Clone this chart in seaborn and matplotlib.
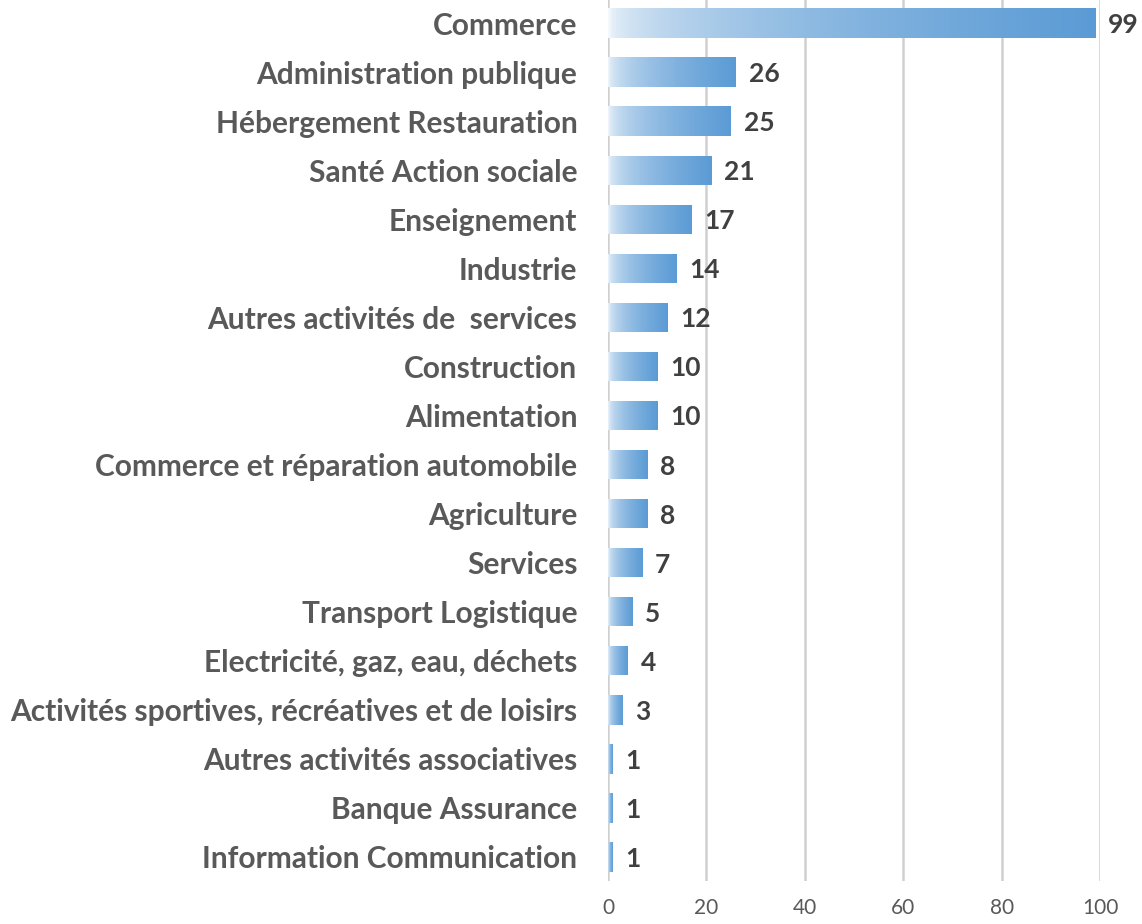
import numpy as np
import pandas as pd
import matplotlib
matplotlib.use("Agg")
from matplotlib import pyplot as plt
from matplotlib.colors import LinearSegmentedColormap
import seaborn as sns

categories = ["Commerce", "Administration publique", "Hébergement Restauration",
              "Santé Action sociale", "Enseignement", "Industrie",
              "Autres activités de  services", "Construction", "Alimentation",
              "Commerce et réparation automobile", "Agriculture", "Services",
              "Transport Logistique", "Electricité, gaz, eau, déchets",
              "Activités sportives, récréatives et de loisirs",
              "Autres activités associatives", "Banque Assurance",
              "Information Communication"]
values = [99, 26, 25, 21, 17, 14, 12, 10, 10, 8, 8, 7, 5, 4, 3, 1, 1, 1]
xticks = [0, 20, 40, 60, 80, 100]

df = pd.DataFrame({"secteur": categories, "n": values})

sns.set_style("white")
plt.rcParams['font.family'] = ['Lato', 'DejaVu Sans']

fig = plt.figure(figsize=(11.42, 9.24), dpi=100)
ax = fig.add_axes([0.5324, 0.0465, 0.4308, 0.9535])

sns.barplot(data=df, x="n", y="secteur", orient="h", ax=ax, width=0.6,
            color="#5B9BD5", zorder=3)

# gradient fill per bar (light on left -> blue on right)
t = np.linspace(0, 1, 256)
f = 0.05 + 0.95 * t ** 0.45
white = np.array([1.0, 1.0, 1.0])
blue = np.array([0x5B, 0x9B, 0xD5]) / 255
cols = white[None, :] * (1 - f[:, None]) + blue[None, :] * f[:, None]
cmap = LinearSegmentedColormap.from_list("grad", cols)
grad = np.linspace(0, 1, 256).reshape(1, -1)

for p in ax.patches:
    x0, y0 = p.get_x(), p.get_y()
    w, h = p.get_width(), p.get_height()
    p.set_facecolor("none")
    p.set_edgecolor("none")
    im = ax.imshow(grad, cmap=cmap, aspect="auto", extent=[x0, x0 + w, y0 + h, y0],
                   zorder=3, interpolation="bicubic")
    im.set_clip_path(p)
    ax.text(x0 + w + 2.6, y0 + h / 2, f"{int(w)}", va="center_baseline", ha="left",
            fontsize=19, fontweight="bold", color="#404040", zorder=4)

ax.set_xlim(0, 100)
ax.set_ylim(len(categories) - 0.51, -0.47)
ax.set_xticks(xticks)
ax.xaxis.grid(True, color="#D0D0D0", linewidth=1.8, zorder=0)
ax.yaxis.grid(False)
for s in ax.spines.values():
    s.set_visible(False)
ax.set_xlabel("")
ax.set_ylabel("")
ax.tick_params(axis="x", length=0, pad=12, labelsize=15, labelcolor="#595959")
ax.tick_params(axis="y", length=0, pad=22, labelsize=21.5, labelcolor="#595959")
for lab in ax.get_yticklabels():
    lab.set_fontweight("bold")

fig.savefig("out.png", dpi=100)
